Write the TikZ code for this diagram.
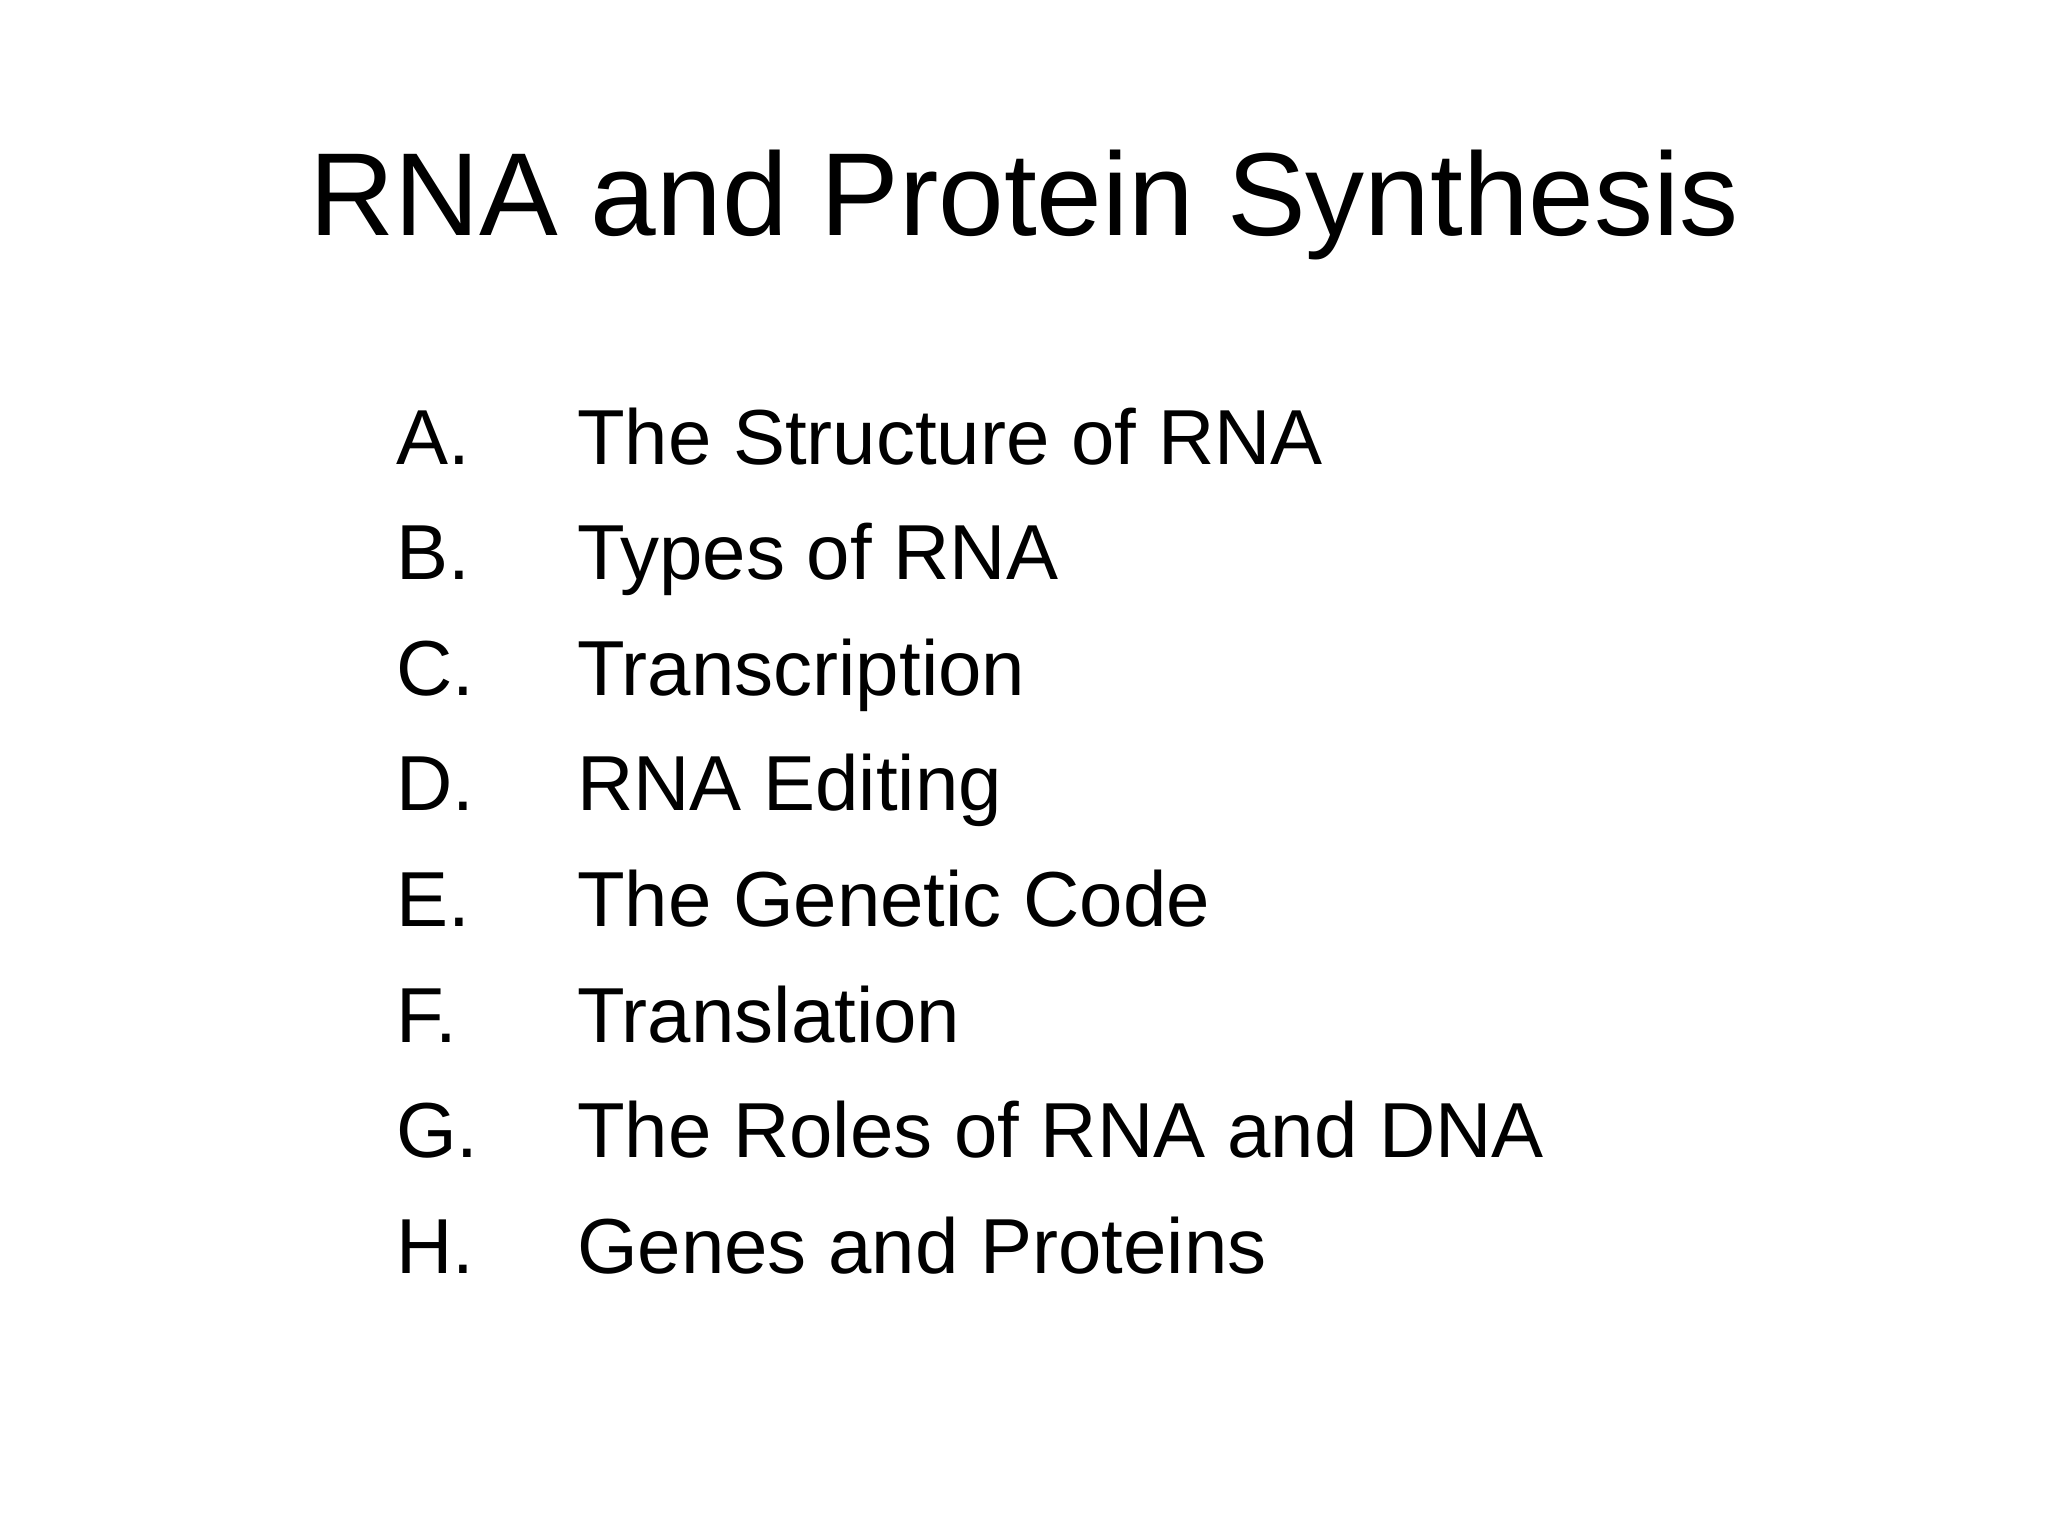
\documentclass[tikz,border=0pt]{standalone}
\usepackage{fontspec}
\setmainfont{Liberation Sans}
\begin{document}
\begin{tikzpicture}[x=1pt,y=-1pt,
  titlestyle/.style={anchor=base,inner sep=0pt,font=\fontsize{118}{130}\selectfont},
  itemstyle/.style={anchor=base west,inner sep=0pt,font=\fontsize{78}{90}\selectfont}]
\useasboundingbox[fill=white] (0,0) rectangle (2048,1536);
\node[titlestyle] (title) at (1024,235) {RNA and Protein Synthesis};
\foreach \l/\t [count=\i from 0] in {A./The Structure of RNA,B./Types of RNA,C./Transcription,D./RNA Editing,E./The Genetic Code,F./Translation,G./The Roles of RNA and DNA,H./Genes and Proteins}{
  \node[itemstyle] (l\i) at (396,{464+115.6*\i}) {\l};
  \node[itemstyle] (t\i) at (577,{464+115.6*\i}) {\t};
}
\end{tikzpicture}
\end{document}
